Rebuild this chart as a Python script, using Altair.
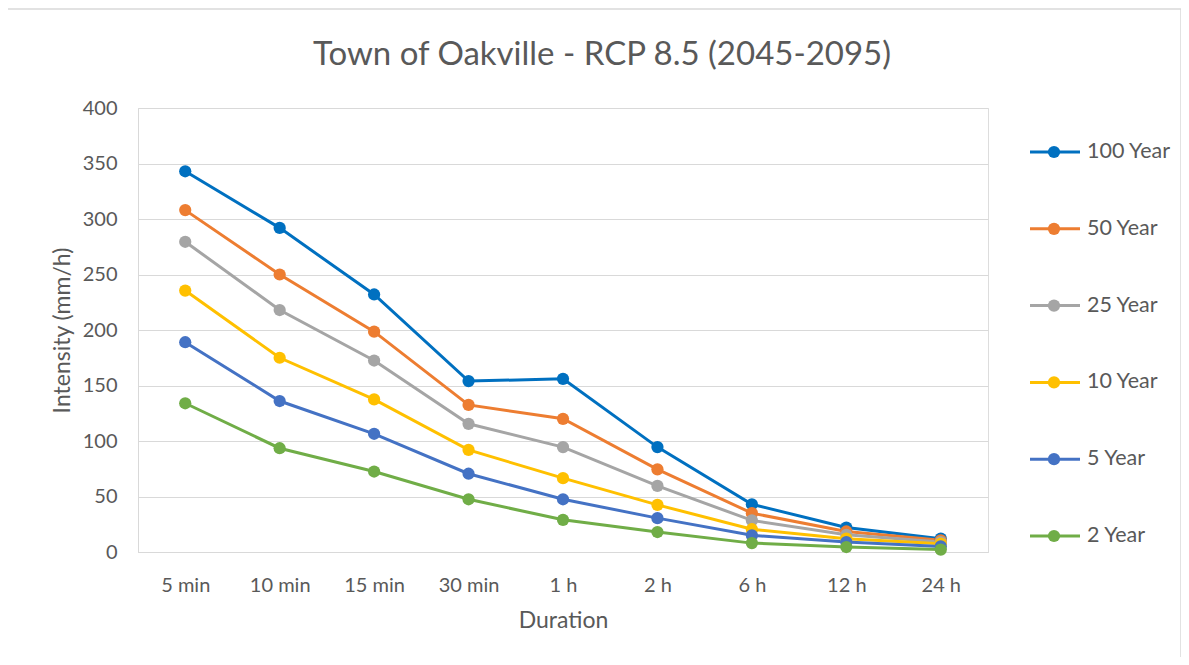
import altair as alt
import pandas as pd

durations = ["5 min", "10 min", "15 min", "30 min", "1 h", "2 h", "6 h", "12 h", "24 h"]
series = ["100 Year", "50 Year", "25 Year", "10 Year", "5 Year", "2 Year"]
colors = ["#0070C0", "#ED7D31", "#A5A5A5", "#FFC000", "#4472C4", "#70AD47"]

y100 = [343, 292, 232, 154, 156, 94.5, 43, 22, 12]
y50 = [308, 250, 198.5, 132.5, 120, 74.5, 35, 18.5, 10.5]
y25 = [279.5, 218, 172.5, 115.5, 94.5, 59.5, 28.5, 15.5, 9]
y10 = [235.5, 175, 137.5, 92, 66.5, 42.5, 20.5, 12, 7.5]
y5 = [189, 136, 106.5, 70.5, 47.5, 30.5, 15, 9, 5]
y2 = [134, 93.5, 72.5, 47.5, 29, 18, 8, 4.5, 2.2]

values = [y100, y50, y25, y10, y5, y2]

rows = []
for s, vals in zip(series, values):
    for d, v in zip(durations, vals):
        rows.append({"series": s, "duration": d, "value": v})
df = pd.DataFrame(rows)
leg_df = pd.DataFrame({"series": series})
frame_df = pd.DataFrame({"k": [0]})

FONT = "Lato"
TXT = "#595959"
GRID = "#D9D9D9"

color = alt.Color("series:N", scale=alt.Scale(domain=series, range=colors), legend=None)

x_enc = alt.X(
    "duration:N",
    sort=durations,
    scale=alt.Scale(type="point", padding=0.5),
    axis=alt.Axis(
        title="Duration", labelAngle=0, ticks=False, labelPadding=23, titlePadding=14,
        labelFontSize=20, titleFontSize=23, labelColor=TXT, titleColor=TXT,
        labelFont=FONT, titleFont=FONT, titleFontWeight="normal",
        domainColor=GRID, grid=False,
    ),
)
y_enc = alt.Y(
    "value:Q",
    scale=alt.Scale(domain=[0, 400]),
    axis=alt.Axis(
        title="Intensity (mm/h)", values=[0, 50, 100, 150, 200, 250, 300, 350, 400],
        ticks=False, labelPadding=21, titlePadding=8,
        labelFontSize=20, titleFontSize=23, labelColor=TXT, titleColor=TXT,
        labelFont=FONT, titleFont=FONT, titleFontWeight="normal",
        domainColor=GRID, gridColor=GRID, gridWidth=1.2,
    ),
)

lines = alt.Chart(df).mark_line(strokeWidth=3).encode(
    x=x_enc, y=y_enc, color=color, detail="series:N"
)
pts = alt.Chart(df).mark_circle(size=150, opacity=1).encode(
    x=alt.X("duration:N", sort=durations, scale=alt.Scale(type="point", padding=0.5)),
    y=alt.Y("value:Q", scale=alt.Scale(domain=[0, 400]), axis=None),
    color=color,
)

leg_y = alt.Y("series:N", scale=alt.Scale(type="point", domain=series, range=[44, 428], padding=0), axis=None)
leg_rule = alt.Chart(leg_df).mark_rule(strokeWidth=3).encode(
    x=alt.value(892), x2=alt.value(942), y=leg_y, color=color
)
leg_pt = alt.Chart(leg_df).mark_circle(size=150, opacity=1).encode(
    x=alt.value(916), y=leg_y, color=color
)
leg_txt = alt.Chart(leg_df).mark_text(
    align="left", baseline="middle", font=FONT, fontSize=21.5, color=TXT
).encode(x=alt.value(949), y=leg_y, text="series:N")

frame = alt.Chart(frame_df).mark_rect(fill=None, stroke=GRID, strokeWidth=1.5).encode(
    x=alt.value(-131), x2=alt.value(1043), y=alt.value(-99), y2=alt.value(600)
)

chart = (
    alt.layer(frame, lines, pts, leg_rule, leg_pt, leg_txt)
    .resolve_scale(y="independent")
    .properties(
        width=850,
        height=444,
        title=alt.Title(
            "Town of Oakville - RCP 8.5 (2045-2095)", font=FONT, fontSize=33,
            fontWeight="normal", color=TXT, anchor="middle", dx=39, offset=-64,
        ),
        autosize=alt.AutoSizeParams(type="none"),
        padding={"left": 130, "top": 100, "right": 193, "bottom": 105},
    )
    .configure_view(stroke=None)
    .configure(background="white")
)

chart.save("out.html", embed_options={"renderer": "svg", "actions": False})
